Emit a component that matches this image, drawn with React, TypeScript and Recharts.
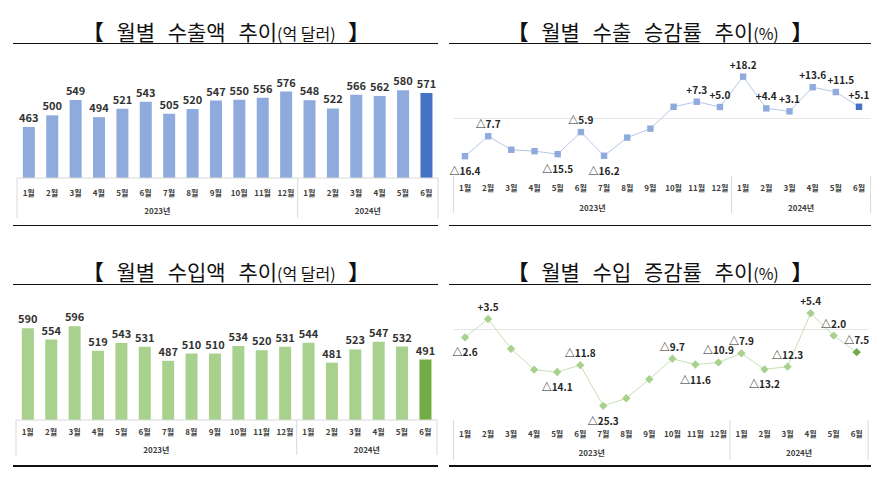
import React from "react";
import { ComposedChart, Bar, Line, XAxis, YAxis, Cell, LabelList, ReferenceLine } from "recharts";

const months = ["1월", "2월", "3월", "4월", "5월", "6월", "7월", "8월", "9월", "10월", "11월", "12월", "1월", "2월", "3월", "4월", "5월", "6월"];
const years = ["2023년", "2023년", "2023년", "2023년", "2023년", "2023년", "2023년", "2023년", "2023년", "2023년", "2023년", "2023년", "2024년", "2024년", "2024년", "2024년", "2024년", "2024년"];

// 억 달러
const exportAmount = [463, 500, 549, 494, 521, 543, 505, 520, 547, 550, 556, 576, 548, 522, 566, 562, 580, 571];
const importAmount = [590, 554, 596, 519, 543, 531, 487, 510, 510, 534, 520, 531, 544, 481, 523, 547, 532, 491];

// %
const exportRate = [-16.4, -7.7, -13.6, -14.2, -15.5, -5.9, -16.2, -8.3, -4.4, 5.1, 7.3, 5.0, 18.2, 4.4, 3.1, 13.6, 11.5, 5.1];
const importRate = [-2.6, 3.5, -6.4, -13.3, -14.1, -11.8, -25.3, -22.8, -16.5, -9.7, -11.6, -10.9, -7.9, -13.2, -12.3, 5.4, -2.0, -7.5];

// which points carry a label, and on which side ("aboveR" = above, nudged right)
const exportLabelSide = ["below", "above", "", "", "below", "above", "below", "", "", "", "above", "above", "above", "above", "above", "above", "aboveR", "above"];
const importLabelSide = ["below", "above", "", "", "below", "above", "below", "", "", "above", "below", "above", "above", "below", "above", "above", "above", "above"];

const KR = '"Noto Sans CJK KR", "Noto Sans", sans-serif';

const rows = months.map((m, i) => ({
  key: `${years[i]}-${m}`,
  exportAmount: exportAmount[i],
  importAmount: importAmount[i],
  exportRate: exportRate[i],
  importRate: importRate[i],
}));

const fmtRate = (v: number) => (v < 0 ? `△${Math.abs(v).toFixed(1)}` : `+${v.toFixed(1)}`);

const CategoryTick = (props: any) => {
  const { x, y, band, monthDy, yearDy, sepLen } = props;
  const i = props.index ?? props.payload?.index ?? 0;
  const out: React.ReactNode[] = [];
  out.push(
    <text key="m" x={x} y={y + monthDy} textAnchor="middle" fontSize={8} fontWeight="bold" fill="#404040" fontFamily={KR}>
      {months[i]}
    </text>
  );
  if (i === 0 || years[i] !== years[i - 1]) {
    const len = years.filter(yr => yr === years[i]).length;
    out.push(<line key="s" x1={x - band / 2} x2={x - band / 2} y1={y} y2={y + sepLen} stroke="#d9d9d9" />);
    out.push(
      <text key="y" x={x - band / 2 + (len * band) / 2} y={y + yearDy} textAnchor="middle" fontSize={8} fontWeight="bold" fill="#404040" fontFamily={KR}>
        {years[i]}
      </text>
    );
  }
  if (i === months.length - 1) {
    out.push(<line key="e" x1={x + band / 2} x2={x + band / 2} y1={y} y2={y + sepLen} stroke="#d9d9d9" />);
  }
  return <g>{out}</g>;
};

const Title = ({ cx, cy, main, unit }: { cx: number; cy: number; main: string; unit: string }) => (
  <div
    style={{
      position: "absolute",
      left: cx - 220,
      width: 440,
      top: cy - 16,
      height: 32,
      lineHeight: "32px",
      textAlign: "center",
      fontFamily: KR,
      fontSize: 21,
      color: "#111",
      whiteSpace: "pre",
      wordSpacing: 8,
    }}
  >
    <span style={{ fontWeight: 900 }}>【</span> {main}
    <span style={{ fontSize: 16, wordSpacing: 0 }}>{unit}</span> <span style={{ fontWeight: 900 }}>】</span>
  </div>
);

const Rule = ({ x1, x2, y }: { x1: number; x2: number; y: number }) => (
  <div style={{ position: "absolute", left: x1, width: x2 - x1, top: y - 1, height: 1.6, background: "#111" }} />
);

type BarProps = { left: number; top: number; dataKey: string; color: string; lastColor: string; margin: any; tick: any };

const AmountChart = ({ left, top, dataKey, color, lastColor, margin, tick }: BarProps) => {
  const W = 445;
  const H = 232;
  const band = (W - margin.left - margin.right) / months.length;
  return (
    <div style={{ position: "absolute", left, top }}>
      <ComposedChart width={W} height={H} data={rows} margin={margin} barCategoryGap="25%">
        <XAxis
          dataKey="key"
          scale="band"
          height={40}
          interval={0}
          tickSize={0}
          tickMargin={0}
          tickLine={false}
          axisLine={{ stroke: "#d9d9d9" }}
          tick={<CategoryTick band={band} {...tick} />}
        />
        <YAxis hide domain={[300, 600]} />
        <Bar dataKey={dataKey} isAnimationActive={false}>
          {rows.map((_, i) => (
            <Cell key={i} fill={i === rows.length - 1 ? lastColor : color} />
          ))}
          <LabelList dataKey={dataKey} position="top" offset={5} fontSize={11} fontWeight="bold" fill="#333" fontFamily={KR} />
        </Bar>
      </ComposedChart>
    </div>
  );
};

type LineProps = {
  left: number;
  top: number;
  dataKey: string;
  domain: [number, number];
  margin: any;
  stroke: string;
  color: string;
  lastColor: string;
  shape: "square" | "diamond";
  sides: string[];
  tick: any;
};

const RateChart = ({ left, top, dataKey, domain, margin, stroke, color, lastColor, shape, sides, tick }: LineProps) => {
  const W = 446;
  const H = 232;
  const band = (W - margin.left - margin.right) / months.length;
  const renderDot = (p: any) => {
    const { cx, cy, index } = p;
    const fill = index === rows.length - 1 ? lastColor : color;
    if (shape === "square") {
      return <rect key={`d${index}`} x={cx - 3.2} y={cy - 3.2} width={6.4} height={6.4} fill={fill} />;
    }
    const r = 4.2;
    return <path key={`d${index}`} d={`M${cx},${cy - r}L${cx + r},${cy}L${cx},${cy + r}L${cx - r},${cy}Z`} fill={fill} />;
  };
  const renderLabel = (p: any) => {
    const { x, y, value, index } = p;
    const side = sides[index];
    if (!side) return null;
    const dx = side === "aboveR" ? 5 : 0;
    return (
      <text key={`l${index}`} x={x + dx} y={side === "below" ? y + 19 : y - 8} textAnchor="middle" fontSize={10} fontWeight="bold" fill="#262626" fontFamily={KR}>
        {fmtRate(value)}
      </text>
    );
  };
  return (
    <div style={{ position: "absolute", left, top }}>
      <ComposedChart width={W} height={H} data={rows} margin={margin}>
        <XAxis
          dataKey="key"
          scale="band"
          height={40}
          interval={0}
          tickSize={0}
          tickMargin={0}
          tickLine={false}
          axisLine={false}
          tick={<CategoryTick band={band} {...tick} />}
        />
        <YAxis hide domain={domain} />
        <ReferenceLine y={0} stroke="#e6e6e6" />
        <Line
          type="linear"
          dataKey={dataKey}
          stroke={stroke}
          strokeWidth={1}
          dot={renderDot}
          activeDot={false}
          isAnimationActive={false}
        >
          <LabelList dataKey={dataKey} content={renderLabel} />
        </Line>
      </ComposedChart>
    </div>
  );
};

export default function App() {
  return (
    <div style={{ position: "fixed", left: 0, top: 0, width: 891, height: 493, background: "#fff", overflow: "hidden" }}>
      <Title cx={226} cy={31} main="월별 수출액 추이" unit="(억 달러)" />
      <Rule x1={13} x2={438} y={43.5} />
      <AmountChart
        left={0}
        top={0}
        dataKey="exportAmount"
        color="#8faadc"
        lastColor="#4472c4"
        margin={{ top: 84, right: 7, left: 17, bottom: 14 }}
        tick={{ monthDy: 18, yearDy: 36, sepLen: 40 }}
      />
      <Rule x1={13} x2={438} y={225.5} />

      <Title cx={660} cy={31} main="월별 수출 승감률 추이" unit="(%)" />
      <Rule x1={449} x2={871} y={43.5} />
      <RateChart
        left={445}
        top={0}
        dataKey="exportRate"
        domain={[-25, 20]}
        margin={{ top: 72.5, right: 20.4, left: 8.4, bottom: 16 }}
        stroke="#b4c7e7"
        color="#8faadc"
        lastColor="#4472c4"
        shape="square"
        sides={exportLabelSide}
        tick={{ monthDy: 15, yearDy: 35, sepLen: 37 }}
      />
      <Rule x1={449} x2={871} y={225.5} />

      <Title cx={226} cy={271} main="월별 수입액 추이" unit="(억 달러)" />
      <Rule x1={13} x2={438} y={284.5} />
      <AmountChart
        left={0}
        top={240}
        dataKey="importAmount"
        color="#a9d18e"
        lastColor="#70ad47"
        margin={{ top: 85, right: 8, left: 16, bottom: 12 }}
        tick={{ monthDy: 15, yearDy: 33, sepLen: 35 }}
      />
      <Rule x1={13} x2={438} y={466} />

      <Title cx={660} cy={271} main="월별 수입 증감률 추이" unit="(%)" />
      <Rule x1={449} x2={871} y={284.5} />
      <RateChart
        left={445}
        top={240}
        dataKey="importRate"
        domain={[-30, 10]}
        margin={{ top: 59.4, right: 22.8, left: 8.5, bottom: 12 }}
        stroke="#c5e0b4"
        color="#a9d18e"
        lastColor="#70ad47"
        shape="diamond"
        sides={importLabelSide}
        tick={{ monthDy: 17, yearDy: 36, sepLen: 40 }}
      />
      <Rule x1={449} x2={871} y={466} />
    </div>
  );
}
